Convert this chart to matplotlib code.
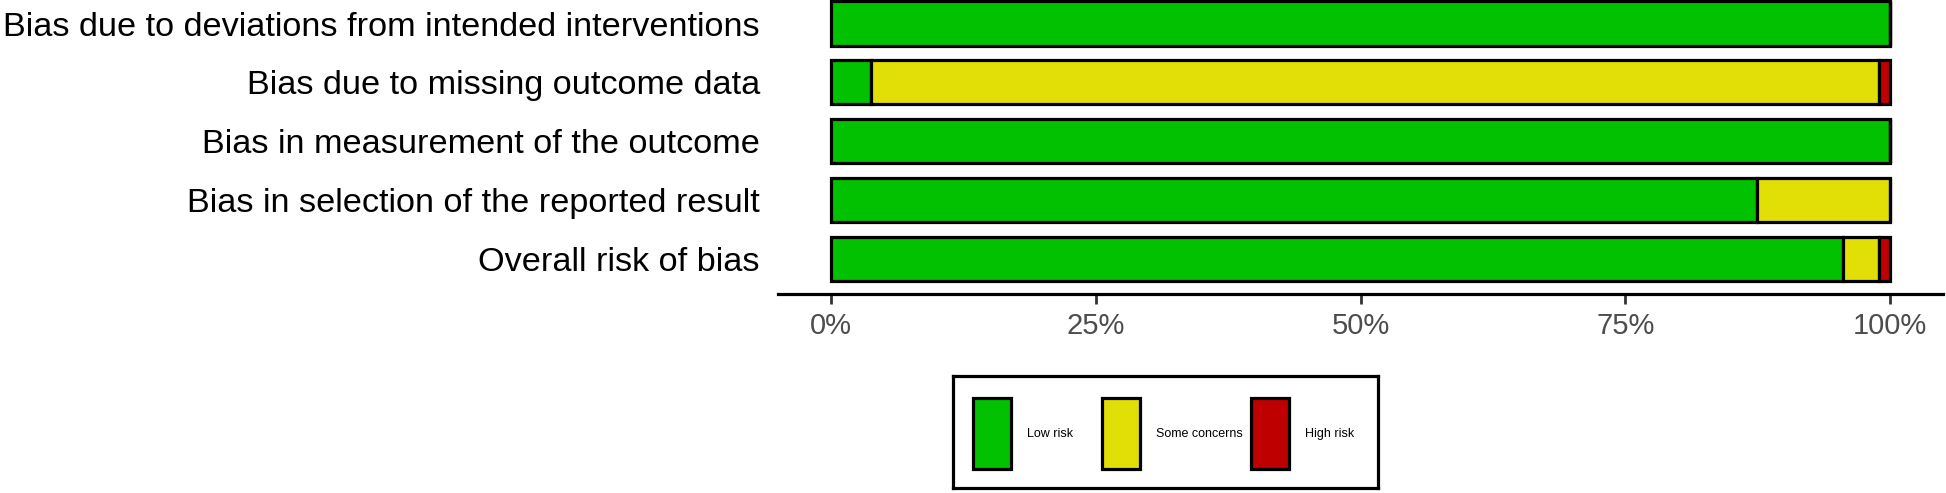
# =====================================================
# Risk of bias summary plot (robvis style)
# =====================================================

import matplotlib
matplotlib.use("Agg")
import matplotlib.pyplot as plt
from matplotlib.patches import Rectangle

plt.rcParams['font.family'] = ['Liberation Sans', 'DejaVu Sans']

# -----------------------------------------------------
# Data (percent of studies per judgement)
# -----------------------------------------------------
domains = [
    "Bias due to deviations from intended interventions",
    "Bias due to missing outcome data",
    "Bias in measurement of the outcome",
    "Bias in selection of the reported result",
    "Overall risk of bias",
]
low_risk = [100.0, 3.8, 100.0, 87.4, 95.6]
some_concerns = [0.0, 95.2, 0.0, 12.6, 3.4]
high_risk = [0.0, 1.0, 0.0, 0.0, 1.0]

judgements = ["Low risk", "Some concerns", "High risk"]
colors = ["#02C100", "#E2DF07", "#BF0000"]
xticks = [0, 25, 50, 75, 100]
xtick_labels = ["0%", "25%", "50%", "75%", "100%"]

# -----------------------------------------------------
# Figure
# -----------------------------------------------------
W, H = 1946, 493
fig = plt.figure(figsize=(W / 100, H / 100), dpi=100)
ax = fig.add_axes([778 / W, 1 - 294 / H, (1943 - 778) / W, 294 / H])

ypos = list(range(len(domains)))
left = [0.0] * len(domains)
for series, col in zip([low_risk, some_concerns, high_risk], colors):
    ax.barh(ypos, series, left=left, height=0.75, color=col,
            edgecolor="black", linewidth=2.3)
    left = [l + w for l, w in zip(left, series)]

ax.set_xlim(-5, 105)
ax.set_ylim(4.6, -0.4)
ax.set_yticks(ypos)
ax.set_yticklabels(domains, fontsize=24.7, color="black")
ax.set_xticks(xticks)
ax.set_xticklabels(xtick_labels, fontsize=21, color="#4D4D4D")

ax.tick_params(axis="y", length=0, pad=13)
ax.tick_params(axis="x", length=7, width=2, color="#333333", pad=6)

for s in ["top", "right", "left"]:
    ax.spines[s].set_visible(False)
ax.spines["bottom"].set_linewidth(2.3)
ax.spines["bottom"].set_color("black")

# -----------------------------------------------------
# Legend (drawn as a small box below the plot)
# -----------------------------------------------------
lx0, lx1, ly0, ly1 = 953, 1378, 376, 488
lax = fig.add_axes([lx0 / W, 1 - ly1 / H, (lx1 - lx0) / W, (ly1 - ly0) / H])
lax.set_xlim(lx0, lx1)
lax.set_ylim(ly1, ly0)
lax.set_xticks([])
lax.set_yticks([])
for s in lax.spines.values():
    s.set_linewidth(2.3)
    s.set_color("black")

key_x = [973, 1102, 1251]
text_x = [1027, 1156, 1305]
for kx, tx, col, lab in zip(key_x, text_x, colors, judgements):
    lax.add_patch(Rectangle((kx, 398), 38, 71, facecolor=col,
                            edgecolor="black", linewidth=2.3))
    lax.text(tx, 434, lab, fontsize=9, va="center", ha="left")

fig.savefig("out.png", dpi=100)
